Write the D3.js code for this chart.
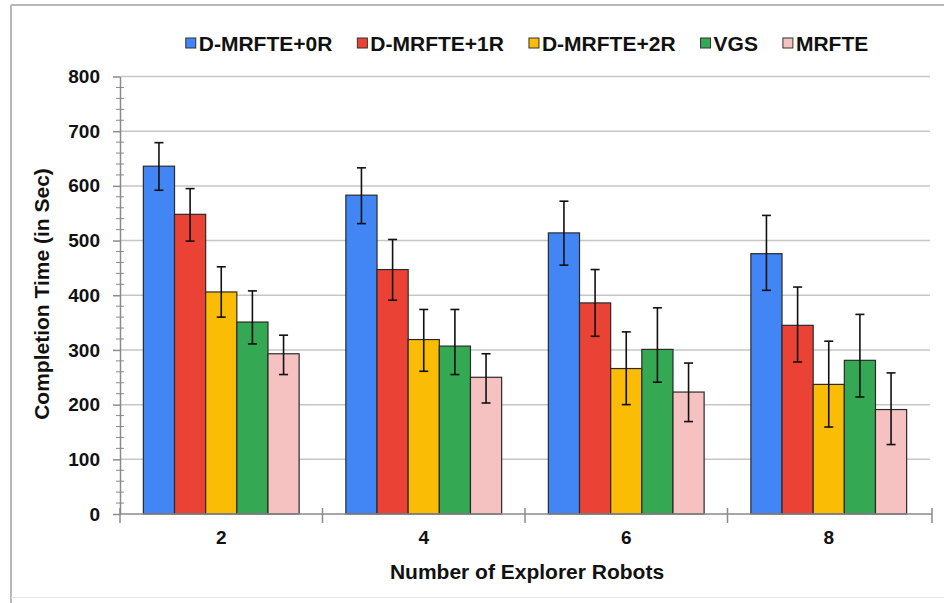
<!DOCTYPE html>
<html>
<head>
<meta charset="utf-8">
<script src="https://cdn.jsdelivr.net/npm/d3@7"></script>
<style>
  html, body { margin: 0; padding: 0; background: #fff; }
  svg { display: block; font-family: "Liberation Sans", Arial, sans-serif; }
</style>
</head>
<body>
<svg id="chart" width="944" height="603"></svg>
<script>
// Number of explorer robots on the x axis
const categories = ["2", "4", "6", "8"];
const seriesNames = ["D-MRFTE+0R", "D-MRFTE+1R", "D-MRFTE+2R", "VGS", "MRFTE"];
const seriesColors = ["#4285f4", "#ea4335", "#fbbc05", "#34a853", "#f6c1c1"];

// Mean completion time (s) per series, one value per robot count
const dmrfte0R = [636, 583, 514, 476];
const dmrfte1R = [548, 447, 386, 345];
const dmrfte2R = [406, 319, 266, 237];
const vgs      = [351, 307, 301, 281];
const mrfte    = [293, 250, 223, 191];

// Error bar extents above / below the mean
const errUp0R   = [43, 50, 58, 70];
const errDown0R = [44, 52, 59, 67];
const errUp1R   = [47, 55, 61, 70];
const errDown1R = [49, 56, 61, 67];
const errUp2R   = [46, 55, 67, 79];
const errDown2R = [46, 58, 66, 78];
const errUpVGS   = [57, 67, 76, 84];
const errDownVGS = [40, 52, 60, 67];
const errUpMR   = [34, 43, 53, 67];
const errDownMR = [38, 47, 54, 64];

const yTicks = [0, 100, 200, 300, 400, 500, 600, 700, 800];

const values = [dmrfte0R, dmrfte1R, dmrfte2R, vgs, mrfte];
const ups = [errUp0R, errUp1R, errUp2R, errUpVGS, errUpMR];
const downs = [errDown0R, errDown1R, errDown2R, errDownVGS, errDownMR];

const svg = d3.select("#chart");
const W = 944, H = 603;
const margin = { left: 120, right: 14, top: 76.5, bottom: 89 };
const plotW = W - margin.left - margin.right;   // 810
const plotH = H - margin.top - margin.bottom;   // 437.5

// Outer frame
svg.append("line").attr("x1", 11).attr("x2", 11).attr("y1", 5).attr("y2", H)
  .attr("stroke", "#b8b8b8").attr("stroke-width", 2);
svg.append("line").attr("x1", 11).attr("x2", W).attr("y1", 5).attr("y2", 5)
  .attr("stroke", "#b8b8b8").attr("stroke-width", 2);
svg.append("line").attr("x1", 11).attr("x2", W).attr("y1", 597.5).attr("y2", 597.5)
  .attr("stroke", "#e4e4e4").attr("stroke-width", 1);

const g = svg.append("g").attr("transform", `translate(${margin.left},${margin.top})`);

const x0 = d3.scaleBand().domain(categories).range([0, plotW]).padding(0);
const x1 = d3.scaleBand().domain(seriesNames).range([0, x0.bandwidth()])
  .paddingInner(0).paddingOuter(0.75);
const y = d3.scaleLinear().domain([0, 800]).range([plotH, 0]);

// Horizontal gridlines
g.append("g").selectAll("line").data(yTicks.filter(d => d > 0)).join("line")
  .attr("x1", 0).attr("x2", plotW)
  .attr("y1", d => y(d)).attr("y2", d => y(d))
  .attr("stroke", "#c6c6c6").attr("stroke-width", 1.5);

// Minor ticks on y axis (every 20)
const minor = d3.range(20, 800, 20).filter(d => d % 100 !== 0);
g.append("g").selectAll("line").data(minor).join("line")
  .attr("x1", -4).attr("x2", 4)
  .attr("y1", d => y(d)).attr("y2", d => y(d))
  .attr("stroke", "#8a8a8a").attr("stroke-width", 1);

// Y axis
const yAxis = g.append("g").call(
  d3.axisLeft(y).tickValues(yTicks).tickSize(7).tickPadding(13).tickSizeOuter(0)
);
yAxis.select(".domain").attr("stroke", "#8a8a8a").attr("stroke-width", 1.5);
yAxis.selectAll(".tick line").attr("stroke", "#8a8a8a").attr("stroke-width", 1.5);
yAxis.selectAll(".tick text")
  .attr("font-size", 19).attr("font-weight", "bold").attr("fill", "#111")
  .attr("font-family", "'Liberation Sans', Arial, sans-serif");

// Bars
const groups = g.append("g").selectAll("g").data(categories).join("g")
  .attr("transform", d => `translate(${x0(d)},0)`);

groups.each(function (cat, ci) {
  const grp = d3.select(this);
  seriesNames.forEach((name, si) => {
    const v = values[si][ci];
    grp.append("rect")
      .attr("x", x1(name)).attr("y", y(v))
      .attr("width", x1.bandwidth()).attr("height", plotH - y(v))
      .attr("fill", seriesColors[si])
      .attr("stroke", "#2a2a2a").attr("stroke-width", 1.2);
  });
});

// Error bars
groups.each(function (cat, ci) {
  const grp = d3.select(this);
  seriesNames.forEach((name, si) => {
    const v = values[si][ci];
    const cx = x1(name) + x1.bandwidth() / 2;
    const hi = y(v + ups[si][ci]);
    const lo = y(v - downs[si][ci]);
    const cap = 4.5;
    grp.append("line").attr("x1", cx).attr("x2", cx).attr("y1", hi).attr("y2", lo)
      .attr("stroke", "#111").attr("stroke-width", 1.6);
    grp.append("line").attr("x1", cx - cap).attr("x2", cx + cap).attr("y1", hi).attr("y2", hi)
      .attr("stroke", "#111").attr("stroke-width", 1.6);
    grp.append("line").attr("x1", cx - cap).attr("x2", cx + cap).attr("y1", lo).attr("y2", lo)
      .attr("stroke", "#111").attr("stroke-width", 1.6);
  });
});

// X axis line with boundary ticks between groups
g.append("line").attr("x1", 0).attr("x2", plotW + 2).attr("y1", plotH).attr("y2", plotH)
  .attr("stroke", "#8a8a8a").attr("stroke-width", 1.5);
const bounds = categories.map(c => x0(c)).concat([plotW + 2]);
g.append("g").selectAll("line").data(bounds).join("line")
  .attr("x1", d => d).attr("x2", d => d)
  .attr("y1", plotH - 6).attr("y2", plotH + 9)
  .attr("stroke", "#8a8a8a").attr("stroke-width", 1.5);

// Category labels
g.append("g").selectAll("text").data(categories).join("text")
  .attr("x", d => x0(d) + x0.bandwidth() / 2)
  .attr("y", plotH + 30)
  .attr("text-anchor", "middle")
  .attr("font-size", 19).attr("font-weight", "bold").attr("fill", "#111")
  .text(d => d);

// Axis titles
svg.append("text")
  .attr("x", 527).attr("y", 579)
  .attr("text-anchor", "middle")
  .attr("font-size", 21).attr("font-weight", "bold").attr("fill", "#111")
  .text("Number of Explorer Robots");

svg.append("text")
  .attr("transform", `translate(49, 294) rotate(-90)`)
  .attr("text-anchor", "middle")
  .attr("font-size", 21).attr("font-weight", "bold").attr("fill", "#111")
  .text("Completion Time (in Sec)");

// Legend
const legend = svg.append("g").attr("transform", "translate(0,43)");
const items = legend.selectAll("g").data(seriesNames).join("g");
items.append("rect")
  .attr("x", 0).attr("y", -5).attr("width", 10).attr("height", 10)
  .attr("fill", (d, i) => seriesColors[i])
  .attr("stroke", "#333").attr("stroke-width", 1);
items.append("text")
  .attr("x", 13).attr("y", 7.5)
  .attr("font-size", 21).attr("font-weight", "bold").attr("fill", "#111")
  .text(d => d);
let cursor = 0;
const offsets = [];
items.each(function () {
  offsets.push(cursor);
  const w = d3.select(this).select("text").node().getComputedTextLength();
  cursor += 13 + w + 25;
});
const totalW = cursor - 25;
const startX = margin.left + plotW / 2 - totalW / 2 + 2;
items.attr("transform", (d, i) => `translate(${startX + offsets[i]},0)`);
</script>
</body>
</html>
